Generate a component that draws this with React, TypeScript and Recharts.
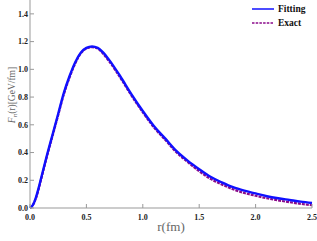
import { LineChart, Line, XAxis, YAxis } from "recharts";

const rValues = [0, 0.025, 0.05, 0.075, 0.1, 0.15, 0.2, 0.25, 0.3, 0.35, 0.4, 0.45, 0.5, 0.55, 0.6, 0.65, 0.7, 0.8, 0.9, 1.0, 1.1, 1.2, 1.3, 1.4, 1.5, 1.6, 1.7, 1.8, 1.9, 2.0, 2.1, 2.2, 2.3, 2.4, 2.5];
const fitting = [0, 0.02, 0.07, 0.14, 0.22, 0.38, 0.53, 0.68, 0.83, 0.95, 1.05, 1.12, 1.155, 1.165, 1.155, 1.12, 1.07, 0.95, 0.82, 0.7, 0.59, 0.5, 0.41, 0.34, 0.28, 0.225, 0.185, 0.15, 0.125, 0.105, 0.085, 0.07, 0.058, 0.046, 0.036];
const exact = [0, 0.02, 0.065, 0.13, 0.21, 0.37, 0.52, 0.67, 0.82, 0.94, 1.04, 1.115, 1.15, 1.16, 1.15, 1.11, 1.06, 0.94, 0.81, 0.69, 0.58, 0.49, 0.4, 0.33, 0.265, 0.21, 0.17, 0.135, 0.108, 0.088, 0.07, 0.055, 0.042, 0.03, 0.02];

const xMajor = [0, 0.5, 1.0, 1.5, 2.0, 2.5];
const xMinor = [0, 0.1, 0.2, 0.3, 0.4, 0.5, 0.6, 0.7, 0.8, 0.9, 1.0, 1.1, 1.2, 1.3, 1.4, 1.5, 1.6, 1.7, 1.8, 1.9, 2.0, 2.1, 2.2, 2.3, 2.4, 2.5];
const yMajor = [0, 0.2, 0.4, 0.6, 0.8, 1.0, 1.2, 1.4];
const yMinor = [0, 0.05, 0.1, 0.15, 0.2, 0.25, 0.3, 0.35, 0.4, 0.45, 0.5, 0.55, 0.6, 0.65, 0.7, 0.75, 0.8, 0.85, 0.9, 0.95, 1.0, 1.05, 1.1, 1.15, 1.2, 1.25, 1.3, 1.35, 1.4, 1.45, 1.5];

const data = rValues.map((r, i) => ({ r, fitting: fitting[i], exact: exact[i] }));

const frame = "#999";
const tickFont = { fontFamily: "Liberation Serif", fontWeight: "bold", fontSize: 8, fill: "#222" };
const legendFont = { fontFamily: "Liberation Serif", fontWeight: "bold", fontSize: 9.5, fill: "#111" };

export default function App() {
  return (
    <div style={{ position: "absolute", left: 0, top: 0, width: 317, height: 241, background: "#fff" }}>
      <LineChart width={317} height={241} data={data} margin={{ top: 0, right: 5, bottom: 0, left: 0 }}>
        <XAxis xAxisId="xm" dataKey="r" type="number" domain={[0, 2.5]} ticks={xMinor} interval={0} height={0}
          tick={false} tickSize={-2} stroke={frame} />
        <XAxis xAxisId="x" dataKey="r" type="number" domain={[0, 2.5]} ticks={xMajor} interval={0} height={33}
          tickSize={-4} tickMargin={10} tick={tickFont} stroke={frame}
          tickFormatter={(v: number) => v.toFixed(1)} />
        <XAxis xAxisId="top" orientation="top" dataKey="r" type="number" domain={[0, 2.5]} ticks={xMinor} interval={0} height={0}
          tick={false} tickSize={-2} stroke={frame} />
        <YAxis yAxisId="ym" type="number" domain={[0, 1.5]} ticks={yMinor} interval={0} width={0}
          tick={false} tickSize={-2} stroke={frame} />
        <YAxis yAxisId="y" type="number" domain={[0, 1.5]} ticks={yMajor} interval={0} width={30}
          tickSize={-4} tickMargin={6} tick={tickFont} stroke={frame}
          tickFormatter={(v: number) => v.toFixed(1)} />
        <YAxis yAxisId="right" orientation="right" type="number" domain={[0, 1.5]} ticks={yMinor} interval={0} width={0}
          tick={false} tickSize={-2} stroke={frame} />
        <Line xAxisId="x" yAxisId="y" type="monotone" dataKey="exact" stroke="#8a0a8a" strokeWidth={2.2}
          strokeDasharray="3 1" dot={false} isAnimationActive={false} />
        <Line xAxisId="x" yAxisId="y" type="monotone" dataKey="fitting" stroke="#1010ff" strokeWidth={2.4}
          dot={false} isAnimationActive={false} />
      </LineChart>
      <svg width={317} height={241} style={{ position: "absolute", left: 0, top: 0, pointerEvents: "none" }}>
        <text x={171} y={231} textAnchor="middle" style={{ fontFamily: "Liberation Serif", fontSize: 13, fill: "#666" }}>r(fm)</text>
        <text transform="translate(15,95) rotate(-90)" textAnchor="middle"
          style={{ fontFamily: "Liberation Serif", fontSize: 9.5, fill: "#666" }}>
          <tspan fontStyle="italic">F</tspan>
          <tspan fontStyle="italic" fontSize={7} dy={1.5}>n</tspan>
          <tspan dy={-1.5}>(r)[GeV/fm]</tspan>
        </text>
        <line x1={252} y1={9} x2={274} y2={9} stroke="#1010ff" strokeWidth={1.5} />
        <text x={278} y={12} style={legendFont}>Fitting</text>
        <line x1={252} y1={23} x2={274} y2={23} stroke="#8a0a8a" strokeWidth={1.5} strokeDasharray="2.5 1.2" />
        <text x={278} y={26} style={legendFont}>Exact</text>
      </svg>
    </div>
  );
}
